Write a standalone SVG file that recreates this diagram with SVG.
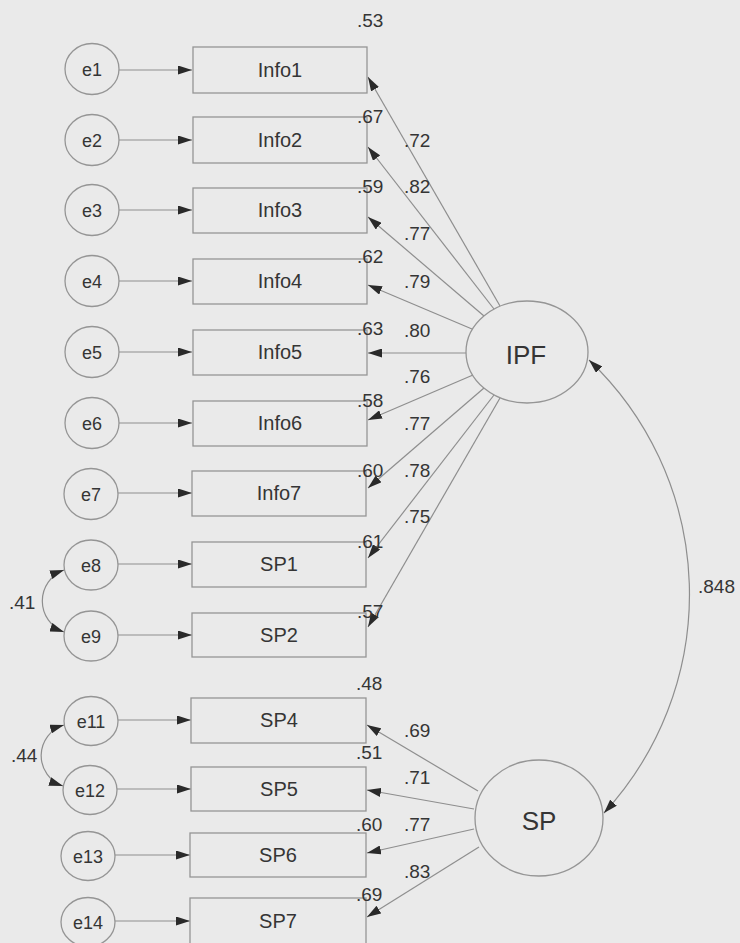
<svg xmlns="http://www.w3.org/2000/svg" width="740" height="943" viewBox="0 0 740 943">
  <style>
    .bg { fill: #eaeaea; }
    .err { fill: none; stroke: #959595; stroke-width: 1.3; }
    .box { fill: none; stroke: #959595; stroke-width: 1.3; }
    .lat { fill: none; stroke: #959595; stroke-width: 1.3; }
    .ln { fill: none; stroke: #8e8e8e; stroke-width: 1.2; }
    .arr { marker-end: url(#ah); }
    .both { marker-start: url(#ah); marker-end: url(#ah); }
    text { font-family: "Liberation Sans", Arial, sans-serif; fill: #353535; }
    .lbl { font-size: 20px; text-anchor: middle; }
    .elbl { font-size: 18px; text-anchor: middle; }
    .big { font-size: 26px; text-anchor: middle; }
    .num { font-size: 19px; }
  </style>
  <defs>
    <marker id="ah" viewBox="0 0 14 9" refX="14" refY="4.5" markerWidth="14" markerHeight="9" markerUnits="userSpaceOnUse" orient="auto-start-reverse">
      <path d="M0,0 L14,4.5 L0,9 Z" fill="#2a2a2a"/>
    </marker>
  </defs>

  <rect class="bg" x="0" y="0" width="740" height="943"/>

  <!-- paths: error terms, factor loadings, covariances -->
  <g id="connectors">
    <!-- error -> indicator -->
    <line class="ln arr" x1="119" y1="70" x2="192" y2="70"/>
    <line class="ln arr" x1="119" y1="140" x2="192" y2="140"/>
    <line class="ln arr" x1="119" y1="210" x2="192" y2="210"/>
    <line class="ln arr" x1="119" y1="281" x2="192" y2="281"/>
    <line class="ln arr" x1="119" y1="352" x2="192" y2="352"/>
    <line class="ln arr" x1="119" y1="423" x2="192" y2="423"/>
    <line class="ln arr" x1="118" y1="493" x2="192" y2="493"/>
    <line class="ln arr" x1="118" y1="564" x2="192" y2="564"/>
    <line class="ln arr" x1="118" y1="635" x2="192" y2="635"/>
    <line class="ln arr" x1="118" y1="720" x2="191" y2="720"/>
    <line class="ln arr" x1="117" y1="789" x2="191" y2="789"/>
    <line class="ln arr" x1="115" y1="855" x2="190" y2="855"/>
    <line class="ln arr" x1="115" y1="921" x2="190" y2="921"/>

    <!-- IPF loadings -->
    <line class="ln arr" x1="500" y1="306" x2="368" y2="77"/>
    <line class="ln arr" x1="494" y1="309" x2="368" y2="147"/>
    <line class="ln arr" x1="484" y1="316" x2="368" y2="217"/>
    <line class="ln arr" x1="472" y1="329" x2="368" y2="285"/>
    <line class="ln arr" x1="466" y1="353" x2="368" y2="353"/>
    <line class="ln arr" x1="473" y1="375" x2="368" y2="420"/>
    <line class="ln arr" x1="484" y1="388" x2="368" y2="488"/>
    <line class="ln arr" x1="494" y1="395" x2="368" y2="558"/>
    <line class="ln arr" x1="500" y1="398" x2="368" y2="627"/>

    <!-- SP loadings -->
    <line class="ln arr" x1="478" y1="791" x2="367" y2="725"/>
    <line class="ln arr" x1="474" y1="809" x2="367" y2="790"/>
    <line class="ln arr" x1="474" y1="829" x2="367" y2="853"/>
    <line class="ln arr" x1="479" y1="847" x2="367" y2="917"/>

    <!-- covariances -->
    <path class="ln both" d="M589,360 A323,323 0 0 1 604,813"/>
    <path class="ln both" d="M64,570 A33,33 0 0 0 64,632"/>
    <path class="ln both" d="M64,725 A32,32 0 0 0 63,786"/>
  </g>

  <!-- error terms -->
  <g id="e1"><ellipse class="err" cx="92" cy="69" rx="27" ry="25.5"/><text class="elbl" x="92" y="76">e1</text></g>
  <g id="e2"><ellipse class="err" cx="92" cy="140" rx="27" ry="25.5"/><text class="elbl" x="92" y="147">e2</text></g>
  <g id="e3"><ellipse class="err" cx="92" cy="210" rx="27" ry="25.5"/><text class="elbl" x="92" y="217">e3</text></g>
  <g id="e4"><ellipse class="err" cx="92" cy="281" rx="27" ry="25.5"/><text class="elbl" x="92" y="288">e4</text></g>
  <g id="e5"><ellipse class="err" cx="92" cy="352" rx="27" ry="25.5"/><text class="elbl" x="92" y="359">e5</text></g>
  <g id="e6"><ellipse class="err" cx="92" cy="423" rx="27" ry="25.5"/><text class="elbl" x="92" y="430">e6</text></g>
  <g id="e7"><ellipse class="err" cx="91" cy="494" rx="27" ry="25.5"/><text class="elbl" x="91" y="501">e7</text></g>
  <g id="e8"><ellipse class="err" cx="91" cy="565" rx="27" ry="25"/><text class="elbl" x="91" y="572">e8</text></g>
  <g id="e9"><ellipse class="err" cx="91" cy="636" rx="27" ry="25"/><text class="elbl" x="91" y="643">e9</text></g>
  <g id="e11"><ellipse class="err" cx="91" cy="721" rx="27" ry="24.5"/><text class="elbl" x="91" y="728">e11</text></g>
  <g id="e12"><ellipse class="err" cx="90" cy="790" rx="27" ry="24.5"/><text class="elbl" x="90" y="797">e12</text></g>
  <g id="e13"><ellipse class="err" cx="88" cy="856" rx="27" ry="24.5"/><text class="elbl" x="88" y="863">e13</text></g>
  <g id="e14"><ellipse class="err" cx="88" cy="922" rx="27" ry="24.5"/><text class="elbl" x="88" y="929">e14</text></g>

  <!-- observed indicators with squared multiple correlations -->
  <g id="Info1"><rect class="box" x="193" y="47" width="174" height="46"/><text class="lbl" x="280" y="77">Info1</text><text class="num" x="357" y="27">.53</text></g>
  <g id="Info2"><rect class="box" x="193" y="117" width="174" height="46"/><text class="lbl" x="280" y="147">Info2</text><text class="num" x="357" y="123">.67</text></g>
  <g id="Info3"><rect class="box" x="193" y="188" width="174" height="45"/><text class="lbl" x="280" y="217">Info3</text><text class="num" x="357" y="193">.59</text></g>
  <g id="Info4"><rect class="box" x="193" y="259" width="174" height="45"/><text class="lbl" x="280" y="288">Info4</text><text class="num" x="357" y="263">.62</text></g>
  <g id="Info5"><rect class="box" x="193" y="330" width="174" height="45"/><text class="lbl" x="280" y="359">Info5</text><text class="num" x="357" y="335">.63</text></g>
  <g id="Info6"><rect class="box" x="193" y="401" width="174" height="45"/><text class="lbl" x="280" y="430">Info6</text><text class="num" x="357" y="407">.58</text></g>
  <g id="Info7"><rect class="box" x="192" y="471" width="174" height="45"/><text class="lbl" x="279" y="500">Info7</text><text class="num" x="357" y="477">.60</text></g>
  <g id="SP1"><rect class="box" x="192" y="542" width="174" height="45"/><text class="lbl" x="279" y="571">SP1</text><text class="num" x="357" y="548">.61</text></g>
  <g id="SP2"><rect class="box" x="192" y="613" width="174" height="44"/><text class="lbl" x="279" y="642">SP2</text><text class="num" x="357" y="618">.57</text></g>
  <g id="SP4"><rect class="box" x="191" y="698" width="175" height="45"/><text class="lbl" x="279" y="727">SP4</text><text class="num" x="356" y="690">.48</text></g>
  <g id="SP5"><rect class="box" x="191" y="767" width="175" height="44"/><text class="lbl" x="279" y="796">SP5</text><text class="num" x="356" y="759">.51</text></g>
  <g id="SP6"><rect class="box" x="190" y="833" width="176" height="44"/><text class="lbl" x="278" y="862">SP6</text><text class="num" x="356" y="831">.60</text></g>
  <g id="SP7"><rect class="box" x="190" y="898" width="176" height="46"/><text class="lbl" x="278" y="928">SP7</text><text class="num" x="356" y="901">.69</text></g>

  <!-- latent factors -->
  <g id="IPF"><ellipse class="lat" cx="527" cy="352" rx="61" ry="51"/><text class="big" x="526" y="364">IPF</text></g>
  <g id="SP"><ellipse class="lat" cx="539" cy="818" rx="64" ry="58"/><text class="big" x="539" y="830">SP</text></g>

  <!-- standardized estimates on paths -->
  <g id="estimates">
    <text class="num" x="404" y="147">.72</text>
    <text class="num" x="404" y="193">.82</text>
    <text class="num" x="404" y="240">.77</text>
    <text class="num" x="404" y="288">.79</text>
    <text class="num" x="404" y="337">.80</text>
    <text class="num" x="404" y="383">.76</text>
    <text class="num" x="404" y="430">.77</text>
    <text class="num" x="404" y="477">.78</text>
    <text class="num" x="404" y="523">.75</text>
    <text class="num" x="404" y="737">.69</text>
    <text class="num" x="404" y="784">.71</text>
    <text class="num" x="404" y="831">.77</text>
    <text class="num" x="404" y="878">.83</text>
    <text class="num" x="698" y="593">.848</text>
    <text class="num" x="9" y="609">.41</text>
    <text class="num" x="11" y="762">.44</text>
  </g>
</svg>
